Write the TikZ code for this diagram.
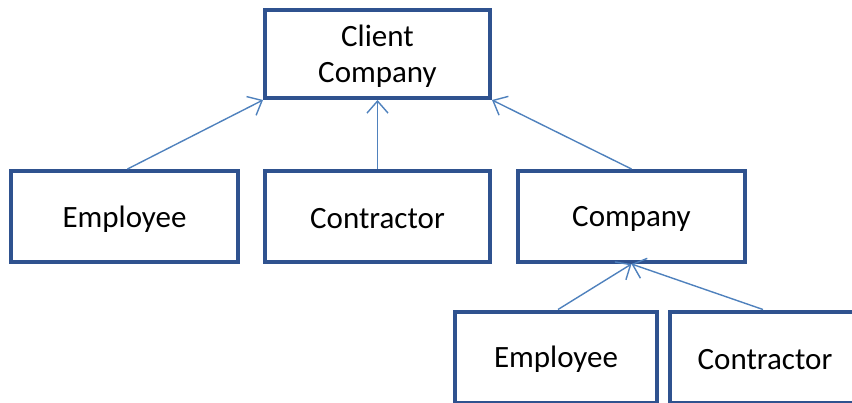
\documentclass[tikz,border=0pt]{standalone}
\usepackage{fontspec}
\setmainfont{Carlito}
\usetikzlibrary{arrows.meta}
\definecolor{boxblue}{RGB}{47,82,143}
\definecolor{lineblue}{RGB}{79,129,189}
\newcommand{\lowtext}[1]{\raisebox{-2.5pt}[\height][\depth]{#1}}
\tikzset{
  box/.style={draw=boxblue, line width=4pt, fill=white, rectangle, inner sep=0pt,
    font=\fontsize{31}{36}\selectfont, align=center},
  conn/.style={draw=lineblue, line width=1.4pt, -{Straight Barb[length=12pt,width=21pt,line width=1.4pt]}}
}
\begin{document}
\begin{tikzpicture}[x=1pt,y=-1pt]
\useasboundingbox (0,0) rectangle (852,402);
\clip (0,0) rectangle (852,402);
\node[box, minimum width=225pt, minimum height=88pt] (client) at (377.5,54) {\lowtext{Client}\\\lowtext{Company}};
\node[box, minimum width=227pt, minimum height=91pt] (emp) at (124.5,216.5) {\lowtext{Employee}};
\node[box, minimum width=225pt, minimum height=91pt] (con) at (377.5,216.5) {\lowtext{Contractor}};
\node[box, minimum width=227pt, minimum height=91pt] (comp) at (631.5,216.5) {\lowtext{Company}};
\node[box, minimum width=202pt, minimum height=91pt] (emp2) at (556,357) {\lowtext{Employee}};
\node[box, minimum width=190pt, minimum height=91pt] (con2) at (765,357) {\lowtext{Contractor}};
\draw[conn] ([xshift=3pt]emp.north) -- (client.south west);
\draw[conn] (con.north) -- (client.south);
\draw[conn] (comp.north) -- (client.south east);
\draw[conn] ([xshift=2pt]emp2.north) -- (comp.south);
\draw[conn] ([xshift=-2pt]con2.north) -- (comp.south);
\end{tikzpicture}
\end{document}
